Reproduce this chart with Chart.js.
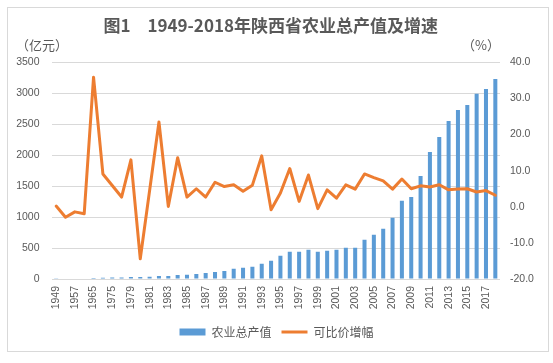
<!DOCTYPE html>
<html><head><meta charset="utf-8">
<script src="https://cdn.jsdelivr.net/npm/chart.js@4"></script>
<style>html,body{margin:0;padding:0;background:#fff;}</style>
</head><body>
<canvas id="c" width="553" height="363"></canvas>
<script>
const categories = ['1949','1952','1957','1962','1965','1970','1975','1978','1979','1980','1981','1982','1983','1984','1985','1986','1987','1988','1989','1990','1991','1992','1993','1994','1995','1996','1997','1998','1999','2000','2001','2002','2003','2004','2005','2006','2007','2008','2009','2010','2011','2012','2013','2014','2015','2016','2017','2018'];
const outputValues = [5,7,9,10,18,22,24,26,32,32,35,48,50,65,68,81,97,113,129,166,182,198,247,295,376,440,440,473,440,456,473,505,505,634,715,811,989,1263,1327,1666,2053,2295,2553,2731,2811,2994,3069,3231];
const growthRates = [0.2,-2.9,-1.4,-1.9,35.9,9.1,5.9,2.7,13.0,-14.4,4.5,23.5,0.1,13.6,2.7,5.0,2.7,6.8,5.6,6.1,4.3,6.0,14.1,-0.8,3.8,10.6,1.5,8.8,-0.5,4.7,2.4,6.1,4.9,9.1,8.1,7.2,4.9,7.7,5.0,5.8,5.5,6.1,4.7,4.9,5.0,4.1,4.5,3.2];
const seriesNames = ['农业总产值','可比价增幅'];
const titleText = '图1　1949-2018年陕西省农业总产值及增速   ';
const leftUnit = '（亿元）';
const rightUnit = '（%）';

const GRAY = '#595959';
const BLUE = '#5B9BD5';
const ORANGE = '#ED7D31';
const CJK = "'Noto Sans CJK SC', sans-serif";
const NUM = "'Liberation Sans', 'Noto Sans CJK SC', sans-serif";

const frame = {
  id: 'frame',
  beforeDraw(chart) {
    const ctx = chart.ctx;
    ctx.save();
    ctx.fillStyle = '#fff';
    ctx.fillRect(0, 0, chart.width, chart.height);
    ctx.strokeStyle = '#d9d9d9';
    ctx.lineWidth = 1;
    ctx.strokeRect(7.5, 7.5, 541, 344);
    ctx.restore();
  },
  afterDraw(chart) {
    const ctx = chart.ctx;
    ctx.save();
    ctx.fillStyle = GRAY;
    ctx.font = "13px " + CJK;
    ctx.textBaseline = 'middle';
    ctx.textAlign = 'center';
    const ca = chart.chartArea;
    ctx.fillText(leftUnit, 42, ca.top - 17);
    ctx.fillText(rightUnit, 481, ca.top - 17);
    ctx.restore();
  }
};

new Chart(document.getElementById('c'), {
  data: {
    labels: categories,
    datasets: [
      { type: 'bar', label: seriesNames[0], data: outputValues, yAxisID: 'y',
        backgroundColor: BLUE, barPercentage: 0.43, categoryPercentage: 1, order: 2 },
      { type: 'line', label: seriesNames[1], data: growthRates, yAxisID: 'y1',
        borderColor: ORANGE, backgroundColor: ORANGE, borderWidth: 3, pointRadius: 0,
        tension: 0, borderJoinStyle: 'round', borderCapStyle: 'round', order: 1 }
    ]
  },
  options: {
    responsive: false, animation: false, devicePixelRatio: 1,
    layout: { padding: { left: 8, right: 8, top: 10, bottom: 15 } },
    plugins: {
      tooltip: { enabled: false },
      title: { display: true, text: titleText, color: GRAY,
        font: { family: CJK, size: 17, weight: 'bold', lineHeight: 1.2 },
        padding: { top: 5, bottom: 27 } },
      legend: { position: 'bottom',
        labels: { usePointStyle: true, pointStyleWidth: 26, boxHeight: 7, padding: 10,
          color: GRAY, font: { family: CJK, size: 12 },
          generateLabels: () => [
            { text: seriesNames[0], fillStyle: BLUE, strokeStyle: BLUE, lineWidth: 0, pointStyle: 'rect', datasetIndex: 0, hidden: false, fontColor: GRAY },
            { text: seriesNames[1], fillStyle: ORANGE, strokeStyle: ORANGE, lineWidth: 3, pointStyle: 'line', datasetIndex: 1, hidden: false, fontColor: GRAY }
          ] } }
    },
    scales: {
      x: {
        grid: { display: false, drawTicks: false }, border: { display: false },
        afterFit: s => { s.height = 37; },
        ticks: { autoSkip: false, minRotation: 90, maxRotation: 90, padding: 7, color: GRAY,
          font: { family: NUM, size: 10.5 },
          callback: (v, i) => (i % 2 === 0 ? categories[i] : '') }
      },
      y: {
        position: 'left', min: 0, max: 3500,
        afterFit: s => { s.width = 43.5; },
        grid: { color: '#d9d9d9', drawTicks: false }, border: { display: false },
        ticks: { stepSize: 500, padding: 12, color: GRAY, font: { family: NUM, size: 10.5 },
          callback: v => String(v) }
      },
      y1: {
        position: 'right', min: -20, max: 40,
        afterFit: s => { s.width = 45; },
        grid: { display: false, drawTicks: false }, border: { display: false },
        ticks: { stepSize: 10, padding: 10, color: GRAY, font: { family: NUM, size: 10.5 },
          callback: v => v.toFixed(1) }
      }
    }
  },
  plugins: [frame]
});
</script>
</body></html>
